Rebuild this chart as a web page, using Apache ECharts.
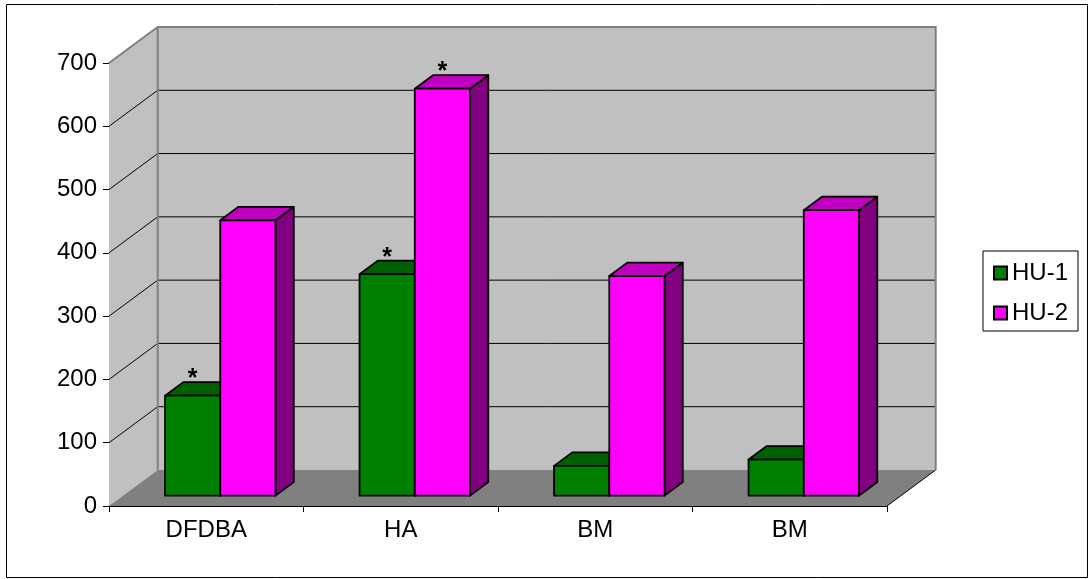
<!DOCTYPE html>
<html>
<head>
<meta charset="utf-8">
<script src="https://cdn.jsdelivr.net/npm/echarts@6/dist/echarts.min.js"></script>
<style>
  html, body { margin: 0; padding: 0; background: #fff; }
  #chart { width: 1089px; height: 579px; }
</style>
</head>
<body>
<div id="chart"></div>
<script>
const categories = ['DFDBA', 'HA', 'BM', 'BM']
const hu1 = [158, 350, 47, 57]
const hu2 = [435, 643, 347, 451]
const hu1Star = [true, true, false, false]
const hu2Star = [false, true, false, false]
const yTicks = [0, 100, 200, 300, 400, 500, 600, 700]

// 3d look: back wall offset from the front plane
const DEPTH_X = 48.7
const DEPTH_Y = -36
const BAR_NEAR = 0.288
const BAR_DEPTH = 0.375
const BAR_FRAC = 0.284
const FONT = '"Liberation Sans", Arial, sans-serif'

const wallRenderer = (params, api) => {
  const cs = params.coordSys
  const L = cs.x, R = cs.x + cs.width, T = cs.y, B = cs.y + cs.height
  const v = api.value(1)
  const y = api.coord([0, v])[1]
  const children = []
  if (params.dataIndex === 0) {
    children.push({
      type: 'polygon',
      shape: { points: [[L, B], [L, T], [L + DEPTH_X, T + DEPTH_Y], [L + DEPTH_X, B + DEPTH_Y]] },
      style: { fill: '#c0c0c0' },
    })
    children.push({
      type: 'rect',
      shape: { x: L + DEPTH_X, y: T + DEPTH_Y, width: cs.width, height: cs.height },
      style: { fill: '#c0c0c0' },
    })
    children.push({
      type: 'polygon',
      shape: { points: [[L, B], [L + DEPTH_X, B + DEPTH_Y], [R + DEPTH_X, B + DEPTH_Y], [R, B]] },
      style: { fill: '#808080' },
    })
    children.push({
      type: 'line',
      shape: { x1: R, y1: B, x2: R + DEPTH_X, y2: B + DEPTH_Y },
      style: { stroke: '#000', lineWidth: 1 },
    })
  }
  if (v > yTicks[0] && v < yTicks[yTicks.length - 1]) {
    children.push({
      type: 'polyline',
      shape: { points: [[L, y], [L + DEPTH_X, y + DEPTH_Y], [R + DEPTH_X, y + DEPTH_Y]] },
      style: { stroke: '#000', lineWidth: 1, fill: null },
    })
  }
  if (v === yTicks[yTicks.length - 1]) {
    children.push({
      type: 'polyline',
      shape: {
        points: [[L, T], [L + DEPTH_X, T + DEPTH_Y], [R + DEPTH_X, T + DEPTH_Y], [R + DEPTH_X, B + DEPTH_Y]],
      },
      style: { stroke: '#808080', lineWidth: 2, fill: null },
    })
    children.push({
      type: 'line',
      shape: { x1: L + DEPTH_X, y1: T + DEPTH_Y, x2: L + DEPTH_X, y2: B + DEPTH_Y },
      style: { stroke: '#808080', lineWidth: 2 },
    })
  }
  return { type: 'group', children }
}

const barRenderer = (slot, stars, frontColor, topColor, sideColor) => (params, api) => {
  const idx = api.value(0)
  const val = api.value(1)
  const base = api.coord([idx, 0])
  const peak = api.coord([idx, val])
  const band = api.size([1, 0])[0]
  const w = band * BAR_FRAC
  const ox = DEPTH_X * BAR_NEAR, oy = DEPTH_Y * BAR_NEAR
  const dx = DEPTH_X * BAR_DEPTH, dy = DEPTH_Y * BAR_DEPTH
  const x0 = base[0] + ox - (slot === 0 ? w : 0)
  const x1 = x0 + w
  const yb = base[1] + oy
  const yt = peak[1] + oy
  const edge = { stroke: '#000', lineWidth: 1.8, lineJoin: 'round' }
  const children = [
    {
      type: 'polygon',
      shape: { points: [[x1, yb], [x1 + dx, yb + dy], [x1 + dx, yt + dy], [x1, yt]] },
      style: Object.assign({ fill: sideColor }, edge),
    },
    {
      type: 'polygon',
      shape: { points: [[x0, yt], [x0 + dx, yt + dy], [x1 + dx, yt + dy], [x1, yt]] },
      style: Object.assign({ fill: topColor }, edge),
    },
    {
      type: 'rect',
      shape: { x: x0, y: yt, width: w, height: yb - yt },
      style: Object.assign({ fill: frontColor }, edge),
    },
  ]
  if (stars[params.dataIndex]) {
    children.push({
      type: 'text',
      style: {
        text: '*',
        x: (x0 + x1) / 2,
        y: yt + dy - 3,
        align: 'center',
        verticalAlign: 'middle',
        font: 'bold 25px ' + FONT,
        fill: '#000',
      },
    })
  }
  return { type: 'group', children }
}

const chart = echarts.init(document.getElementById('chart'), null, { renderer: 'canvas' })

chart.setOption({
  animation: false,
  backgroundColor: '#fff',
  textStyle: { fontFamily: FONT },
  graphic: [
    {
      type: 'rect',
      shape: { x: 6.5, y: 4.5, width: 1081, height: 573 },
      style: { fill: null, stroke: '#000', lineWidth: 1 },
      z: -10,
    },
  ],
  grid: { left: 109, right: 202, top: 63, bottom: 73 },
  legend: {
    data: ['HU-1', 'HU-2'],
    orient: 'vertical',
    left: 983,
    top: 251,
    padding: [10, 10, 6, 10],
    itemGap: 16,
    itemWidth: 13,
    itemHeight: 13,
    icon: 'rect',
    borderColor: '#000',
    borderWidth: 1,
    textStyle: { fontSize: 24, color: '#000', fontFamily: FONT, lineHeight: 22 },
  },
  xAxis: {
    type: 'category',
    data: categories,
    axisLine: { lineStyle: { color: '#000', width: 1 } },
    axisTick: { show: true, length: 6, alignWithLabel: false, lineStyle: { color: '#000' } },
    axisLabel: { fontSize: 24, color: '#000', margin: 12, fontFamily: FONT },
    splitLine: { show: false },
  },
  yAxis: {
    type: 'value',
    min: 0,
    max: 700,
    interval: 100,
    axisLine: { show: true, lineStyle: { color: '#000', width: 1 } },
    axisTick: { show: true, length: 6, lineStyle: { color: '#000' } },
    axisLabel: { fontSize: 24, color: '#000', margin: 12, fontFamily: FONT },
    splitLine: { show: false },
  },
  series: [
    {
      name: 'walls',
      type: 'custom',
      z: 1,
      silent: true,
      renderItem: wallRenderer,
      data: yTicks.map((v) => [0, v]),
    },
    {
      name: 'HU-1',
      type: 'custom',
      z: 2,
      itemStyle: { color: '#008000', borderColor: '#000', borderWidth: 1 },
      renderItem: barRenderer(0, hu1Star, '#008000', '#006000', '#004000'),
      data: hu1.map((v, i) => [i, v]),
    },
    {
      name: 'HU-2',
      type: 'custom',
      z: 3,
      itemStyle: { color: '#ff00ff', borderColor: '#000', borderWidth: 1 },
      renderItem: barRenderer(1, hu2Star, '#ff00ff', '#c000c0', '#800080'),
      data: hu2.map((v, i) => [i, v]),
    },
  ],
})
</script>
</body>
</html>
